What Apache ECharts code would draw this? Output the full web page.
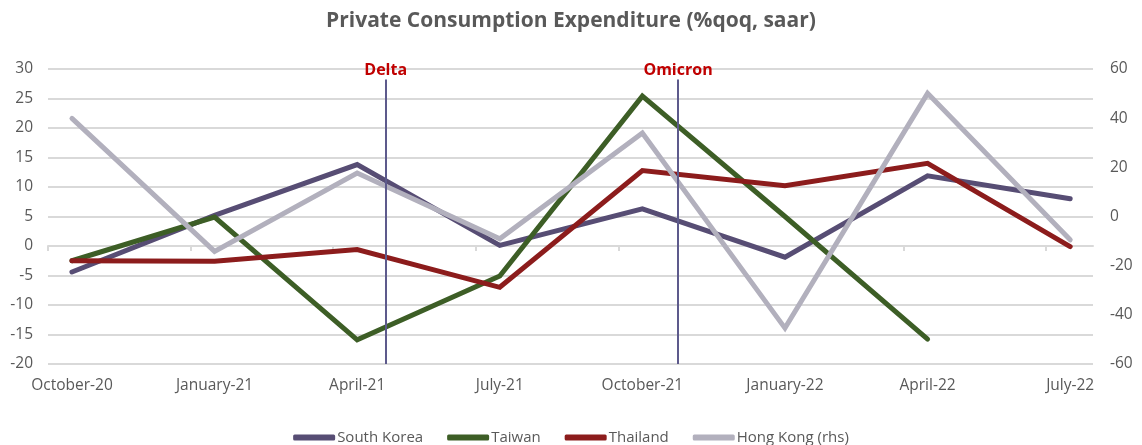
<!DOCTYPE html>
<html>
<head>
<meta charset="utf-8">
<script src="https://cdn.jsdelivr.net/npm/echarts@6/dist/echarts.min.js"></script>
<style>
  html, body { margin: 0; padding: 0; background: #fff; }
  #chart { width: 1142px; height: 445px; }
</style>
</head>
<body>
<div id="chart"></div>
<script>
const categories = ["October-20", "January-21", "April-21", "July-21", "October-21", "January-22", "April-22", "July-22"];
const southKorea = [-4.4, 5.2, 13.8, 0.1, 6.3, -1.9, 11.9, 8.0];
const taiwan = [-2.5, 4.9, -15.9, -5.1, 25.4, 5.0, -15.8, null];
const thailand = [-2.5, -2.6, -0.6, -7.0, 12.8, 10.2, 14.0, -0.1];
const hongKong = [39.9, -14.2, 17.7, -9.1, 34.0, -45.4, 50.1, -9.5];
const events = [{ name: "Delta", at: 2.2 }, { name: "Omicron", at: 4.25 }];

const FONT = "'Open Sans', 'Liberation Sans', sans-serif";
const GRAY = "#595959";
const X_MIN = -0.168, X_MAX = 7.16;

const pairs = vals => vals.map((v, i) => [i, v]);

const chart = echarts.init(document.getElementById("chart"));

const lineSeries = (name, vals, color, yAxisIndex) => ({
  name: name,
  type: "line",
  yAxisIndex: yAxisIndex,
  data: pairs(vals),
  symbol: "none",
  connectNulls: false,
  lineStyle: { width: 5, color: color, cap: "round", join: "miter" },
  itemStyle: { color: color },
  emphasis: { disabled: true }
});

const markers = {
  name: "events",
  type: "line",
  data: [],
  silent: true,
  markLine: {
    symbol: "none",
    lineStyle: { color: "#5d5a8c", width: 2, type: "solid" },
    label: {
      show: true,
      position: "end",
      color: "#c00000",
      fontWeight: "bold",
      fontSize: 16,
      fontFamily: FONT,
      distance: 1
    },
    data: events.map(e => [
      { coord: [e.at, -20], name: e.name, label: { formatter: e.name } },
      { coord: [e.at, 28.2] }
    ])
  }
};

const tickPositions = [];
for (let k = 0; k <= 7; k++) tickPositions.push(X_MIN + k);

chart.setOption({
  animation: false,
  title: {
    text: "Private Consumption Expenditure (%qoq, saar)",
    left: "center",
    top: 6,
    textStyle: { fontFamily: FONT, fontWeight: "bold", fontSize: 21, color: GRAY }
  },
  legend: {
    top: 425,
    left: "center",
    data: ["South Korea", "Taiwan", "Thailand", "Hong Kong (rhs)"],
    icon: "roundRect",
    itemWidth: 42,
    itemHeight: 6,
    itemGap: 24,
    textStyle: { fontFamily: FONT, fontSize: 15, color: GRAY, padding: [0, 0, 0, -3] }
  },
  grid: { left: 48, right: 49, top: 69, bottom: 81 },
  xAxis: [
    {
      type: "value",
      min: X_MIN,
      max: X_MAX,
      position: "bottom",
      axisLine: { show: false },
      axisTick: { show: false },
      splitLine: { show: false },
      axisLabel: {
        customValues: categories.map((c, i) => i),
        formatter: v => categories[Math.round(v)] || "",
        fontFamily: FONT,
        fontSize: 15.5,
        color: GRAY,
        margin: 14
      }
    },
    {
      type: "value",
      min: X_MIN,
      max: X_MAX,
      position: "bottom",
      axisLine: { show: true, onZero: true, onZeroAxisIndex: 0, lineStyle: { color: "#d9d9d9", width: 2 } },
      axisTick: { show: true, customValues: tickPositions, length: 5, lineStyle: { color: "#d9d9d9", width: 2 } },
      axisLabel: { show: false },
      splitLine: { show: false }
    }
  ],
  yAxis: [
    {
      type: "value",
      min: -20,
      max: 30,
      interval: 5,
      axisLine: { show: false },
      axisTick: { show: false },
      axisLabel: { fontFamily: FONT, fontSize: 15.5, color: GRAY, margin: 15 },
      splitLine: { lineStyle: { color: "#d9d9d9", width: 2 } }
    },
    {
      type: "value",
      min: -60,
      max: 60,
      interval: 20,
      position: "right",
      axisLine: { show: false },
      axisTick: { show: false },
      axisLabel: { fontFamily: FONT, fontSize: 15.5, color: GRAY, margin: 17 },
      splitLine: { show: false }
    }
  ],
  series: [
    lineSeries("South Korea", southKorea, "#574d74", 0),
    lineSeries("Taiwan", taiwan, "#3d5e26", 0),
    lineSeries("Thailand", thailand, "#8c1c1c", 0),
    lineSeries("Hong Kong (rhs)", hongKong, "#b2b0bd", 1),
    markers
  ]
});
</script>
</body>
</html>
